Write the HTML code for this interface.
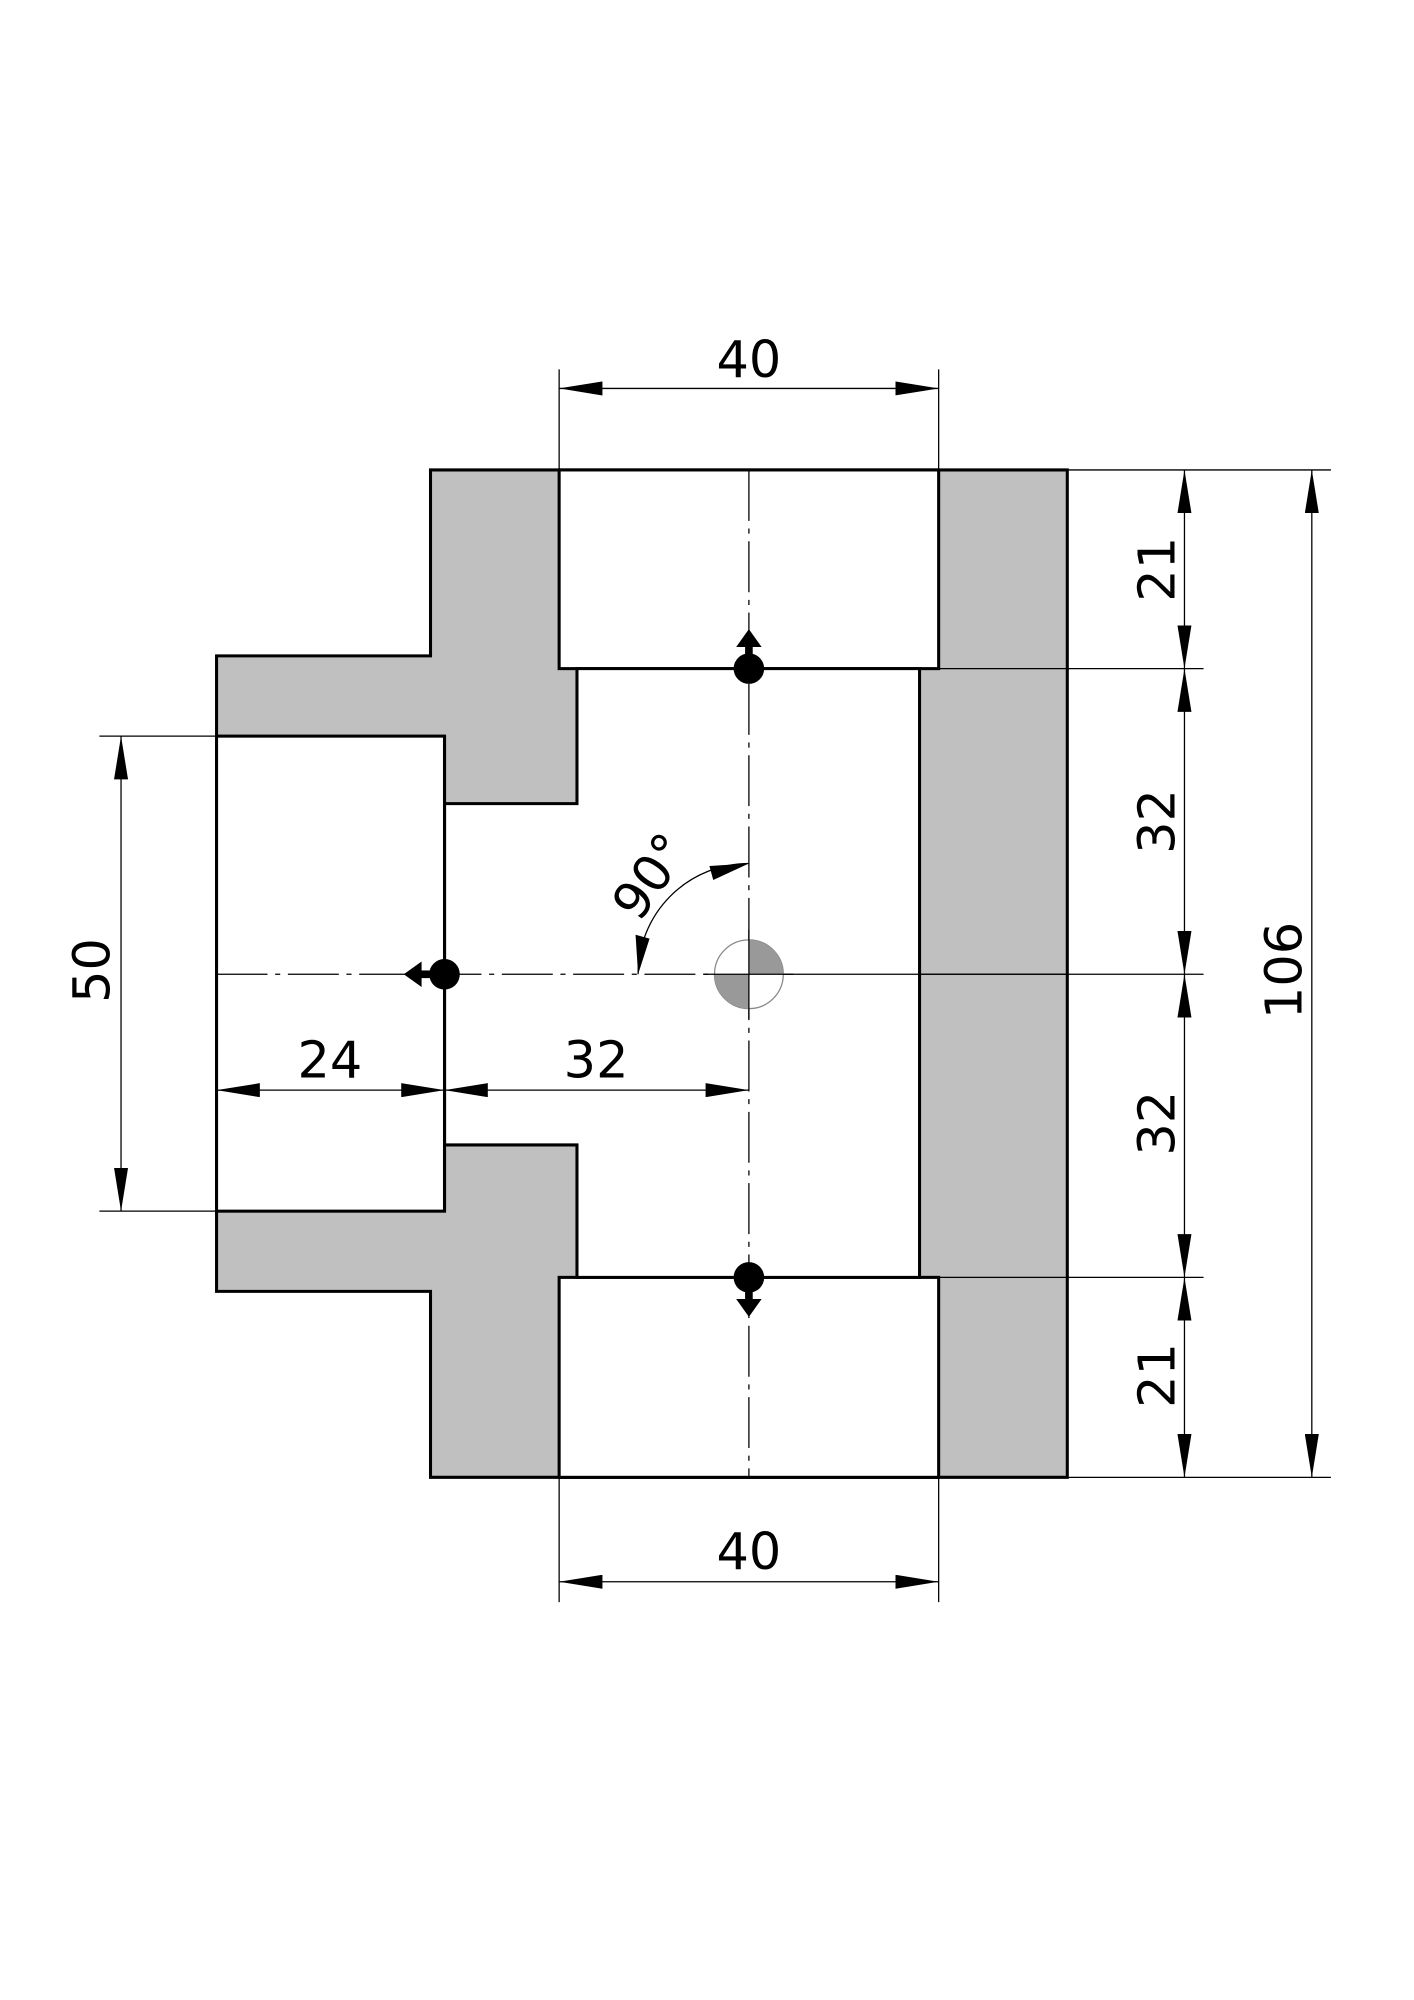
<!DOCTYPE html>
<html><head><meta charset="utf-8"><style>html,body{margin:0;padding:0;background:#fff}svg{display:block}</style></head><body>
<svg width="1414" height="2000" viewBox="0 0 1110.2 1570.4" xmlns="http://www.w3.org/2000/svg" font-family="DejaVu Sans, Liberation Sans, sans-serif">
<defs>
<marker id="a" viewBox="0 0 34 11" refX="34" refY="5.5" markerWidth="34" markerHeight="11" markerUnits="userSpaceOnUse" orient="auto-start-reverse"><path d="M0,0 L34,5.5 L0,11 Z" fill="#000"/></marker>
</defs>
<path d="M338,369 H838 V1160 H338 V1014 H170 V515 H338 Z" fill="#c0c0c0" stroke="#000" stroke-width="2.4"/>
<rect x="439" y="369" width="298" height="156" fill="#fff" stroke="#000" stroke-width="2.4"/>
<rect x="439" y="1003" width="298" height="157" fill="#fff" stroke="#000" stroke-width="2.4"/>
<path d="M453,525 H722 V1003 H453 V899 H349 V631 H453 Z" fill="#fff" stroke="#000" stroke-width="2.4"/>
<rect x="170" y="578" width="179" height="373" fill="#fff" stroke="#000" stroke-width="2.4"/>
<path d="M349,578 V951" stroke="#000" stroke-width="2.4"/>
<path d="M722,765 H838" stroke="#000" stroke-width="1"/>
<path d="M588,369 V1160" stroke="#000" stroke-width="1" stroke-dasharray="40,6,4,6"/>
<path d="M170,765 H565" stroke="#000" stroke-width="1" stroke-dasharray="40,6,4,6"/>
<path d="M588,765 H945" stroke="#000" stroke-width="1"/>
<circle cx="588" cy="765" r="27" fill="#fff" stroke="#888" stroke-width="1"/>
<path d="M588,765 V738 A27,27 0 0 1 615,765 Z" fill="#999"/>
<path d="M588,765 V792 A27,27 0 0 1 561,765 Z" fill="#999"/>
<path d="M588,730 V800 M553,765 H623" stroke="#000" stroke-width="1"/>
<g stroke="#000" stroke-width="1" fill="none">
<path d="M838,369 H1045 M838,1160 H1045 M737,525 H945 M737,1003 H945"/>
<path d="M439,290 V369 M737,290 V369 M439,1160 V1258 M737,1160 V1258"/>
<path d="M78,578 H170 M78,951 H170"/>
<path d="M439,305 H737" marker-start="url(#a)" marker-end="url(#a)"/>
<path d="M439,1242 H737" marker-start="url(#a)" marker-end="url(#a)"/>
<path d="M95,578 V951" marker-start="url(#a)" marker-end="url(#a)"/>
<path d="M170,856 H349" marker-start="url(#a)" marker-end="url(#a)"/>
<path d="M349,856 H588" marker-start="url(#a)" marker-end="url(#a)"/>
<path d="M930,369 V525" marker-start="url(#a)" marker-end="url(#a)"/>
<path d="M930,525 V765" marker-start="url(#a)" marker-end="url(#a)"/>
<path d="M930,765 V1003" marker-start="url(#a)" marker-end="url(#a)"/>
<path d="M930,1003 V1160" marker-start="url(#a)" marker-end="url(#a)"/>
<path d="M1030,369 V1160" marker-start="url(#a)" marker-end="url(#a)"/>
<path d="M588,678 A87,87 0 0 0 501,765"/>
</g>
<g fill="#000">
<path d="M588,678 L557,680 L560,691 Z"/>
<path d="M501,765 L499,734 L510,737 Z"/>
<circle cx="588" cy="525" r="12"/><rect x="585" y="505" width="6" height="20"/><path d="M578,508 L588,494 L598,508 Z"/>
<circle cx="588" cy="1003" r="12"/><rect x="585" y="1003" width="6" height="20"/><path d="M578,1020 L588,1034 L598,1020 Z"/>
<circle cx="349" cy="765" r="12"/><rect x="328" y="762" width="20" height="6"/><path d="M331,755 L317,765 L331,775 Z"/>
</g>
<g font-size="40" fill="#000" text-anchor="middle">
<text x="588" y="296">40</text>
<text x="588" y="1232">40</text>
<text x="259" y="846">24</text>
<text x="468" y="846">32</text>
<text transform="translate(86,762) rotate(-90)">50</text>
<text transform="translate(922,447) rotate(-90)">21</text>
<text transform="translate(922,645) rotate(-90)">32</text>
<text transform="translate(922,882) rotate(-90)">32</text>
<text transform="translate(922,1080) rotate(-90)">21</text>
<text transform="translate(1022,762) rotate(-90)">106</text>
<text transform="translate(522,696) rotate(-55)">90°</text>
</g>
</svg>
</body></html>
